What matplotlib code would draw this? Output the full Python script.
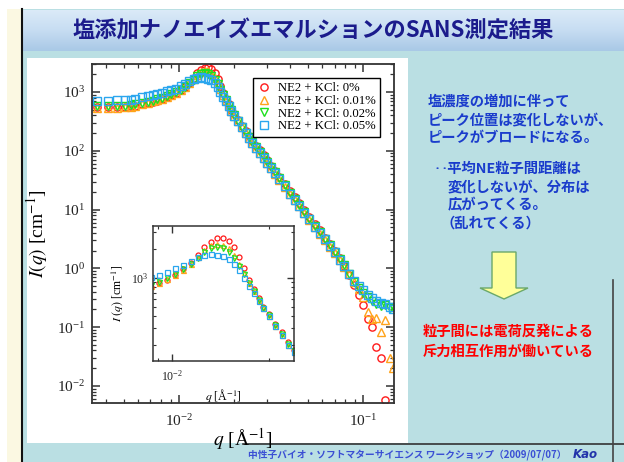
import matplotlib.pyplot as plt
import numpy as np
from matplotlib.patches import Rectangle, Polygon
from matplotlib.lines import Line2D
from matplotlib.colors import LinearSegmentedColormap
from matplotlib.ticker import NullFormatter

plt.rcParams['font.family'] = ['Liberation Serif', 'DejaVu Serif']
plt.rcParams['mathtext.fontset'] = 'stix'
JP = ['Noto Sans CJK JP', 'DejaVu Sans']

# scattering vector q [1/A], shared by all four samples
q = [0.0036, 0.0041, 0.0046, 0.0051, 0.0055, 0.0058, 0.0063, 0.0068, 0.0072, 0.0076,
     0.0081, 0.0086, 0.0091, 0.0096, 0.0102, 0.0108, 0.0114, 0.0120, 0.0126, 0.0132,
     0.0138, 0.0144, 0.0150, 0.0156, 0.0162, 0.0168, 0.0174, 0.0180, 0.0186, 0.0192,
     0.0200, 0.0210, 0.0220, 0.0230, 0.0240, 0.0250, 0.0262, 0.0275, 0.0288, 0.0300,
     0.0315, 0.0330, 0.0350, 0.0375, 0.0400, 0.0425, 0.0450, 0.0480, 0.0510, 0.0545,
     0.0580, 0.0620, 0.0660, 0.0700, 0.0745, 0.0790, 0.0840, 0.0890, 0.0945, 0.1000,
     0.1060, 0.1120, 0.1180, 0.1250, 0.1320, 0.1400, 0.1450]

# I(q) [1/cm]
I_kcl0 = [562, 556, 556, 562, 569, 589, 617, 653, 684, 716,
          759, 813, 881, 955, 1072, 1230, 1445, 1738, 2089, 2399,
          2600, 2630, 2455, 2089, 1660, 1259, 955, 759, 617, 501,
          417, 331, 269, 214, 178, 148, 123, 102, 85, 69,
          56, 46, 36, 27.5, 20.4, 16.2, 12.9, 9.8, 7.4, 5.6,
          4.4, 3.3, 2.6, 2.0, 1.48, 1.10, 0.76, 0.52, 0.355, 0.24,
          0.135, 0.10, 0.045, 0.030, 0.0058, np.nan, np.nan]
I_kcl001 = [537, 543, 543, 550, 556, 582, 617, 653, 692, 724,
            767, 822, 891, 966, 1072, 1216, 1413, 1660, 1950, 2188,
            2291, 2239, 2042, 1738, 1413, 1122, 891, 724, 589, 484,
            398, 316, 251, 200, 166, 138, 112, 93, 76, 62,
            50, 41, 32, 24.5, 18.2, 14.5, 11.5, 8.7, 6.6, 5.0,
            3.9, 3.0, 2.35, 1.82, 1.38, 1.05, 0.79, 0.575, 0.44, 0.32,
            0.18, 0.138, 0.141, 0.083, 0.132, 0.030, 0.020]
I_kcl002 = [582, 582, 582, 589, 596, 617, 646, 684, 716, 750,
            794, 851, 912, 989, 1096, 1230, 1413, 1622, 1862, 2042,
            2089, 2042, 1862, 1622, 1349, 1096, 891, 724, 589, 490,
            407, 324, 257, 204, 170, 141, 115, 95, 78, 65,
            52, 43, 34, 25.7, 19.1, 15.1, 12.0, 9.1, 6.9, 5.2,
            4.1, 3.2, 2.45, 1.9, 1.45, 1.12, 0.79, 0.59, 0.47, 0.38,
            0.32, 0.28, 0.25, 0.23, 0.24, 0.21, 0.22]
I_kcl005 = [708, 716, 724, 733, 741, 776, 813, 861, 902, 933,
            977, 1023, 1084, 1148, 1259, 1380, 1514, 1660, 1758, 1778,
            1758, 1698, 1585, 1413, 1202, 1000, 832, 692, 575, 479,
            398, 316, 251, 200, 166, 138, 112, 93, 76, 63,
            51, 42, 33, 25, 18.6, 14.8, 11.7, 8.9, 6.8, 5.1,
            4.0, 3.1, 2.4, 1.86, 1.41, 1.10, 0.79, 0.60, 0.50, 0.42,
            0.355, 0.31, 0.28, 0.26, 0.25, 0.22, 0.20]

labels = ['NE2 + KCl: 0%', 'NE2 + KCl: 0.01%', 'NE2 + KCl: 0.02%', 'NE2 + KCl: 0.05%']
series = [I_kcl0, I_kcl001, I_kcl002, I_kcl005]
colors = ['#ff1a1a', '#ffa31a', '#1ee01e', '#2aa6ee']
markers = ['o', '^', 'v', 's']

W, H = 624, 462


def fx(x):
    return x / W


def fy(y):
    return 1 - y / H


def box(x0, y0, x1, y1):
    return [fx(x0), fy(y1), (x1 - x0) / W, (y1 - y0) / H]


def rect(x0, y0, x1, y1, color, z=-5):
    fig.add_artist(Rectangle((fx(x0), fy(y1)), (x1 - x0) / W, (y1 - y0) / H,
                             transform=fig.transFigure, facecolor=color,
                             edgecolor='none', zorder=z))


def hline(x0, x1, y, color='#222222', lw=1.2):
    fig.add_artist(Line2D([fx(x0), fx(x1)], [fy(y), fy(y)], transform=fig.transFigure,
                          color=color, lw=lw, zorder=-1))


def vline(x, y0, y1, color='#222222', lw=1.2):
    fig.add_artist(Line2D([fx(x), fx(x)], [fy(y0), fy(y1)], transform=fig.transFigure,
                          color=color, lw=lw, zorder=-1))


fig = plt.figure(figsize=(6.24, 4.62), dpi=100, facecolor='#badfe3')

# slide background
rect(0, 0, 624, 9, 'white')
rect(0, 9, 7, 462, 'white')
rect(7, 9, 22, 462, '#fbf8e2')
vline(22, 9, 462, '#111111', 1.5)
rect(27, 58, 408, 443, 'white')
hline(243, 624, 443.5, '#333333', 1.2)
vline(612.5, 280, 462, '#444444', 1.2)

# title bar with a vertical gradient
tax = fig.add_axes(box(23, 10, 624, 51), zorder=-3)
grad = np.linspace(0, 1, 50).reshape(-1, 1)
cmap = LinearSegmentedColormap.from_list('tb', ['#dcebf8', '#c7ddf2', '#a9c9e6'])
tax.imshow(grad, aspect='auto', cmap=cmap)
tax.axis('off')
fig.text(fx(313), fy(31), '塩添加ナノエイズエマルションのSANS測定結果', ha='center', va='center',
         fontsize=16, fontweight='bold', color='#1b1b8c', family=JP)

# main plot
ax = fig.add_axes(box(92, 64, 394, 403))
for I, c, m, lab in zip(series, colors, markers, labels):
    ax.plot(q, I, linestyle='none', marker=m, mfc='none', mec=c, ms=5.2, mew=1.0, label=lab)
ax.set_xscale('log')
ax.set_yscale('log')
ax.set_xlim(0.00337, 0.147)
ax.set_ylim(0.0051, 3000)
ax.xaxis.set_minor_formatter(NullFormatter())
ax.yaxis.set_minor_formatter(NullFormatter())
ax.tick_params(which='both', direction='in', top=True, right=True, colors='#333333',
               labelcolor='#222222', labelsize=11)
ax.tick_params(which='major', length=6, width=1.1)
ax.tick_params(which='minor', length=3, width=0.9)
ax.tick_params(axis='x', pad=7)
ax.tick_params(axis='y', pad=5)
for s in ax.spines.values():
    s.set_color('#333333')
    s.set_linewidth(1.3)
ax.set_xlabel(r'$q$ [Å$^{-1}$]', fontsize=14)
ax.set_ylabel(r'$I(q)$ [cm$^{-1}$]', fontsize=14)
ax.xaxis.set_label_coords(0.5, -0.068)
ax.yaxis.set_label_coords(-0.14, 0.5)
leg = ax.legend(loc='upper right', bbox_to_anchor=(0.9536, 0.9587), borderaxespad=0,
                fontsize=9.2, fancybox=False, framealpha=1, edgecolor='black',
                handlelength=1.0, handletextpad=0.6, labelspacing=0.05, borderpad=0.35)
leg.get_frame().set_linewidth(1.0)

# inset around the peak
axi = fig.add_axes(box(153, 226, 294, 361))
for I, c, m in zip(series, colors, markers):
    axi.plot(q, I, linestyle='none', marker=m, mfc='none', mec=c, ms=3.6, mew=0.9)
axi.set_xscale('log')
axi.set_yscale('log')
axi.set_xlim(0.0087, 0.0240)
axi.set_ylim(135, 3500)
axi.xaxis.set_minor_formatter(NullFormatter())
axi.yaxis.set_minor_formatter(NullFormatter())
axi.tick_params(which='both', direction='in', top=True, right=True, colors='#333333',
                labelcolor='#222222', labelsize=8.5)
axi.tick_params(which='major', length=5, width=1.0)
axi.tick_params(which='minor', length=2.5, width=0.8)
axi.tick_params(axis='x', pad=6)
for s in axi.spines.values():
    s.set_color('#333333')
    s.set_linewidth(1.1)
axi.set_xlabel(r'$q$ [Å$^{-1}$]', fontsize=8.5)
axi.set_ylabel(r'$I\ (q)$ [cm$^{-1}$]', fontsize=8.5)
axi.xaxis.set_label_coords(0.5, -0.19)
axi.yaxis.set_label_coords(-0.2, 0.5)

# right-hand comments
blue_txt = '#1a3ccc'
for y, x, s in [(101.5, 428, '塩濃度の増加に伴って'),
                (120, 428, 'ピーク位置は変化しないが、'),
                (138.5, 428, 'ピークがブロードになる。'),
                (168.5, 434, '‥平均NE粒子間距離は'),
                (187, 448, '変化しないが、分布は'),
                (205, 448, '広がってくる。'),
                (223.5, 440, '（乱れてくる）')]:
    fig.text(fx(x), fy(y), s, ha='left', va='center', fontsize=10.3, fontweight='bold',
             color=blue_txt, family=JP)

fig.add_artist(Polygon([(fx(492), fy(252)), (fx(516), fy(252)), (fx(516), fy(288)),
                        (fx(528), fy(288)), (fx(504), fy(299)), (fx(480), fy(288)),
                        (fx(492), fy(288))], closed=True, transform=fig.transFigure,
                       facecolor='#ffff99', edgecolor='#6aa86a', lw=1.0, zorder=2))

for y, s in [(332, '粒子間には電荷反発による'), (351.5, '斥力相互作用が働いている')]:
    fig.text(fx(423), fy(y), s, ha='left', va='center', fontsize=10.3, fontweight='bold',
             color='#ff0000', family=JP)

# footer
fig.text(fx(567), fy(455), '中性子バイオ・ソフトマターサイエンス ワークショップ（2009/07/07）',
         ha='right', va='center', fontsize=7, fontweight='bold', color='#3b4fd4', family=JP)
fig.text(fx(573), fy(455), 'Kao', ha='left', va='center', fontsize=8.5, fontweight='bold',
         fontstyle='italic', color='#2233aa', family=['DejaVu Sans'])

fig.savefig('out.png', dpi=100, facecolor=fig.get_facecolor())
